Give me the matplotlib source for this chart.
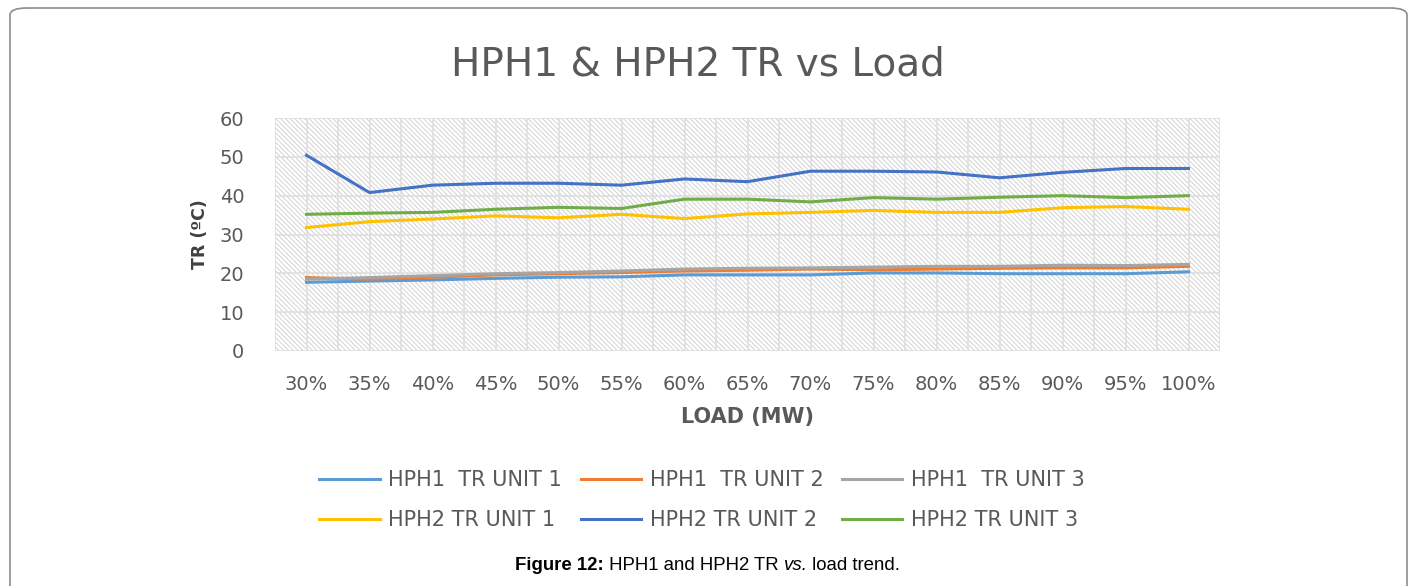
import numpy as np
import matplotlib
matplotlib.use("Agg")
import matplotlib.pyplot as plt
from matplotlib.patches import FancyBboxPatch, Rectangle

# values
loads = ["30%", "35%", "40%", "45%", "50%", "55%", "60%", "65%",
         "70%", "75%", "80%", "85%", "90%", "95%", "100%"]
hph1_u1 = [17.7, 18.0, 18.3, 18.7, 19.0, 19.1, 19.6, 19.6, 19.6, 20.1, 20.1, 19.9, 19.9, 19.9, 20.4]
hph1_u2 = [18.9, 18.5, 19.0, 19.6, 19.9, 20.2, 20.6, 20.8, 21.1, 20.9, 21.1, 21.3, 21.4, 21.4, 21.8]
hph1_u3 = [18.5, 18.9, 19.4, 19.9, 20.2, 20.6, 21.1, 21.3, 21.4, 21.6, 21.8, 21.8, 22.1, 22.0, 22.3]
hph2_u1 = [31.8, 33.3, 34.0, 34.8, 34.3, 35.2, 34.1, 35.3, 35.7, 36.2, 35.7, 35.7, 36.9, 37.2, 36.5]
hph2_u2 = [50.4, 40.8, 42.7, 43.2, 43.2, 42.7, 44.3, 43.6, 46.3, 46.3, 46.1, 44.6, 46.0, 47.0, 47.0]
hph2_u3 = [35.2, 35.5, 35.7, 36.5, 37.0, 36.7, 39.1, 39.1, 38.4, 39.5, 39.1, 39.6, 40.0, 39.5, 40.0]

series = [
    ("HPH1  TR UNIT 1", hph1_u1, "#5b9bd5"),
    ("HPH1  TR UNIT 2", hph1_u2, "#ed7d31"),
    ("HPH1  TR UNIT 3", hph1_u3, "#a5a5a5"),
    ("HPH2 TR UNIT 1", hph2_u1, "#ffc000"),
    ("HPH2 TR UNIT 2", hph2_u2, "#4472c4"),
    ("HPH2 TR UNIT 3", hph2_u3, "#70ad47"),
]

txt = "#595959"
plt.rcParams['hatch.linewidth'] = 0.6
fig = plt.figure(figsize=(14.16, 5.86), dpi=100)

# page frame
frame = FancyBboxPatch((10 / 1416, -0.05), 1397 / 1416, 1.0 - 8 / 586 + 0.05,
                       boxstyle="round,pad=0,rounding_size=0.012",
                       transform=fig.transFigure, fill=False,
                       edgecolor="#8c8c8c", linewidth=1.2)
fig.patches.append(frame)

ax = fig.add_axes([275 / 1416, 1 - 351 / 586, 945 / 1416, 233 / 586])
x = np.arange(len(loads))

# hatched plot area
ax.patch.set_visible(False)
bg = Rectangle((0, 0), 1, 1, transform=ax.transAxes, facecolor="white",
               edgecolor="#cccccc", hatch="\\" * 7, linewidth=0, zorder=0)
ax.add_patch(bg)

for xv in np.arange(-0.5, len(loads), 0.5):
    ax.axvline(xv, color="#e0e0e0", lw=1.3, zorder=1)
for yv in range(0, 61, 10):
    ax.axhline(yv, color="#e0e0e0", lw=1.3, zorder=1)

for name, vals, col in series:
    ax.plot(x, vals, color=col, lw=2.2, label=name, zorder=3)

ax.set_xlim(-0.5, len(loads) - 0.5)
ax.set_ylim(0, 60)
ax.set_xticks(x)
ax.set_xticklabels(loads)
ax.set_yticks(range(0, 61, 10))
for s in ax.spines.values():
    s.set_visible(False)
ax.tick_params(length=0, labelsize=14, labelcolor=txt)
ax.tick_params(axis="x", pad=17)
ax.tick_params(axis="y", pad=22)
ax.set_xlabel("LOAD (MW)", fontsize=15, fontweight="bold", color=txt, labelpad=10)
ax.set_ylabel("TR (ºC)", fontsize=12.5, fontweight="bold", color="#404040", labelpad=8)

fig.text(698 / 1416, 1 - 65 / 586, "HPH1 & HPH2 TR vs Load", ha="center", va="center",
         fontsize=28, color=txt)

# legend rows: matplotlib fills columns first, so reorder
handles, labels = ax.get_legend_handles_labels()
order = [0, 3, 1, 4, 2, 5]
leg = fig.legend([handles[i] for i in order], [labels[i] for i in order],
                 loc="center", ncol=3,
                 bbox_to_anchor=(702 / 1416, 1 - 500 / 586),
                 frameon=False, fontsize=15, handlelength=2.9,
                 handletextpad=0.4, columnspacing=0.9, labelspacing=0.95)
for t in leg.get_texts():
    t.set_color(txt)

# caption in pieces: bold / normal / italic / normal
cap_y = 1 - 566 / 586
cap_fs = 13.4
t1 = fig.text(515 / 1416, cap_y, "Figure 12:", ha="left", va="center", fontsize=cap_fs,
              fontweight="bold", family="Liberation Sans")
t2 = ax.annotate(" HPH1 and HPH2 TR ", xy=(1, 0.5), xycoords=t1, ha="left", va="center",
                 fontsize=cap_fs, family="Liberation Sans", annotation_clip=False)
t3 = ax.annotate("vs.", xy=(1, 0.5), xycoords=t2, ha="left", va="center",
                 fontsize=cap_fs, style="italic", family="Liberation Sans", annotation_clip=False)
ax.annotate(" load trend.", xy=(1, 0.5), xycoords=t3, ha="left", va="center",
            fontsize=cap_fs, family="Liberation Sans", annotation_clip=False)

fig.savefig("out.png", dpi=100, facecolor="white")
